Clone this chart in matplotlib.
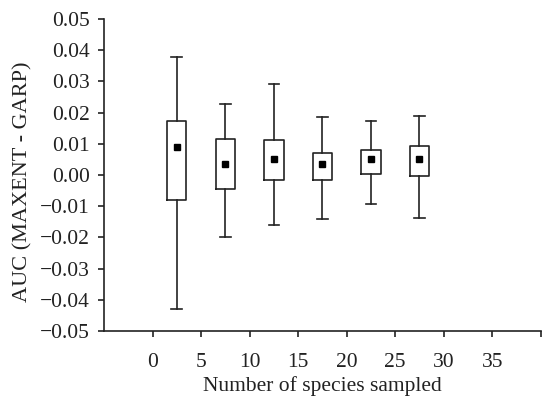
import matplotlib
matplotlib.use("Agg")
import matplotlib.pyplot as plt

plt.rcParams["font.family"] = ["Liberation Serif", "DejaVu Serif"]

# box summaries
positions = [2.5, 7.5, 12.5, 17.5, 22.5, 27.5]
whisk_hi = [0.0379, 0.0227, 0.0293, 0.0187, 0.0174, 0.0190]
q3 = [0.0173, 0.0115, 0.0112, 0.0072, 0.0081, 0.0093]
mean = [0.0091, 0.0036, 0.0051, 0.0034, 0.0052, 0.0052]
q1 = [-0.0080, -0.0044, -0.0016, -0.0017, 0.0003, -0.0003]
whisk_lo = [-0.0428, -0.0198, -0.0161, -0.0141, -0.0093, -0.0137]

xticks = [0, 5, 10, 15, 20, 25, 30, 35, 40]
xticklabels = ["0", "5", "10", "15", "20", "25", "30", "35", ""]
yticks = [-0.05, -0.04, -0.03, -0.02, -0.01, 0.0, 0.01, 0.02, 0.03, 0.04, 0.05]

stats = []
for i in range(len(positions)):
    stats.append({"whislo": whisk_lo[i], "q1": q1[i], "med": mean[i],
                  "q3": q3[i], "whishi": whisk_hi[i], "mean": mean[i]})

fig = plt.figure(figsize=(5.43, 4.0), dpi=100)
ax = fig.add_axes([0.1915, 0.1725, 0.8045, 0.78])

lc = "#222222"
lw = 1.2
ax.bxp(stats, positions=positions, widths=2.0, showfliers=False,
       showmeans=True, manage_ticks=False,
       boxprops=dict(color=lc, linewidth=lw),
       whiskerprops=dict(color=lc, linewidth=lw),
       capprops=dict(color=lc, linewidth=lw),
       medianprops=dict(linewidth=0),
       meanprops=dict(marker="s", markersize=4.5, markerfacecolor="black",
                      markeredgecolor="black"),
       capwidths=1.1)

ax.set_xlim(-5, 40)
ax.set_ylim(-0.05, 0.05)
ax.set_xticks(xticks)
ax.set_xticklabels(xticklabels)
ax.set_yticks(yticks)
ax.set_yticklabels([f"{v:.2f}".replace("-", "\u2212") for v in yticks])

for s in ["top", "right"]:
    ax.spines[s].set_visible(False)
for s in ["left", "bottom"]:
    ax.spines[s].set_color(lc)
    ax.spines[s].set_linewidth(lw)
ax.tick_params(direction="out", length=4, width=lw, color=lc,
               labelsize=15.5, labelcolor=lc)
ax.tick_params(axis="x", pad=12)
ax.tick_params(axis="y", pad=6)

ax.set_xlabel("Number of species sampled", fontsize=15.5, color=lc, labelpad=3)
ax.set_ylabel("AUC (MAXENT - GARP)", fontsize=16, color=lc)
ax.yaxis.set_label_coords(-0.163, 0.478)

fig.savefig("out.png", dpi=100)
